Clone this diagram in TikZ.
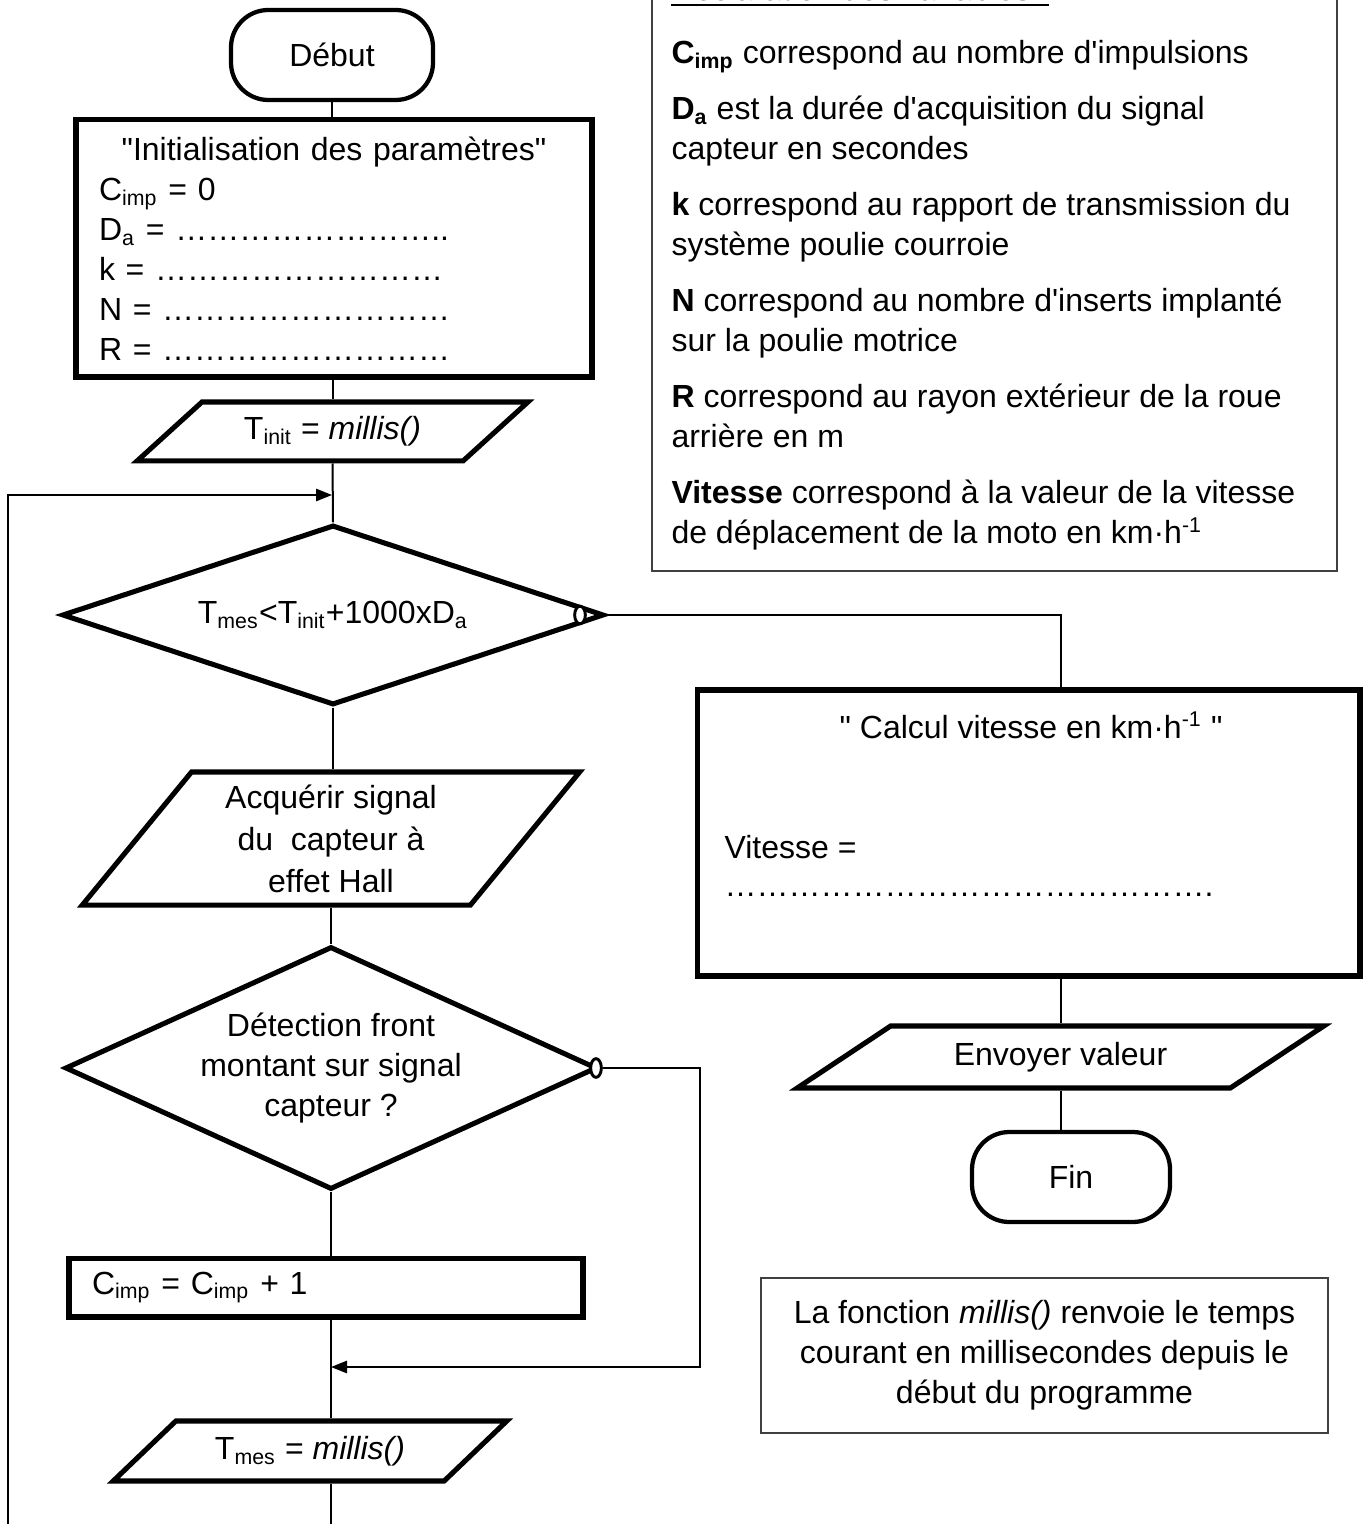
\documentclass[tikz,border=0pt]{standalone}
\usepackage{fontspec}
\setmainfont{Liberation Sans}[Ligatures=TeXOff]
\usetikzlibrary{arrows.meta, shapes.geometric}
\newcommand\elp{…}

\begin{document}
\begin{tikzpicture}[x=0.375pt, y=-0.375pt, >={Triangle[length=6pt,width=4.6pt]},
  font=\fontsize{12pt}{15pt}\selectfont,
  link/.style={line width=0.75pt},
  term/.style={draw, line width=1.6pt, rounded corners=14pt, minimum width=#1, minimum height=33.75pt},
  procbox/.style={draw, line width=1.9pt, rectangle},
  iobox/.style 2 args={draw, line width=1.9pt, trapezium, trapezium stretches=true,
    trapezium left angle=#1, trapezium right angle=#2, inner sep=1pt},
  test/.style={draw, line width=1.9pt, diamond, inner sep=0pt, align=center},
  nogo/.style={draw, ellipse, fill=white, line width=1.1pt, inner sep=0pt},
  infobox/.style={draw=black!75, line width=0.7pt}]

    \path[use as bounding box, fill=white] (0,0) rectangle (1368,1524);

    \coordinate (loopbot) at (8,1524);
    \coordinate (join1) at (332,495);
    \coordinate (join2) at (331,1367);
    \coordinate (rloop) at (700,1367);

    \node[term=75.75pt] (debut) at (332,55) {Début};
    \node[procbox, minimum width=193.5pt, minimum height=96.4pt, text width=176.25pt,
      inner xsep=8.6pt, inner ysep=3pt, align=left] (init) at (334,248.5)
      {\makebox[\linewidth]{"Initialisation des paramètres"}\\
       C\textsubscript{imp} = 0\\
       D\textsubscript{a} = \elp\elp\elp\elp\elp\elp\elp\elp..\\
       k = \elp\elp\elp\elp\elp\elp\elp\elp\elp\\
       N = \elp\elp\elp\elp\elp\elp\elp\elp\elp\\
       R = \elp\elp\elp\elp\elp\elp\elp\elp\elp};
    \node[iobox={37.8}{142.2}, minimum width=146.6pt, minimum height=22.1pt] (tinit) at (332.5,431.5)
      {T\textsubscript{init} = \textit{millis()}};
    \node[test, aspect=3, minimum width=203.25pt, minimum height=67.5pt] (d1) at (333,615)
      {T\textsubscript{mes}<T\textsubscript{init}+1000xD\textsubscript{a}};
    \node[iobox={53.1}{126.9}, minimum width=186.75pt, minimum height=49.9pt, align=center,
      font=\fontsize{12pt}{15.75pt}\selectfont] (acq) at (331,838.5)
      {Acquérir signal\\du~ capteur à\\effet Hall};
    \node[test, aspect=2.19, minimum width=199.5pt, minimum height=91.1pt] (d2) at (331,1068)
      {Détection front\\montant sur signal\\capteur ?};
    \node[procbox, minimum width=192.75pt, minimum height=22.1pt, text width=175.5pt,
      inner xsep=8.6pt, align=left] (cimp) at (326,1287.5)
      {C\textsubscript{imp} = C\textsubscript{imp} + 1};
    \node[iobox={37.6}{142.4}, minimum width=147.75pt, minimum height=22.5pt] (tmes) at (310,1451)
      {T\textsubscript{mes} = \textit{millis()}};

    \node[procbox, minimum width=248.6pt, minimum height=107.25pt] (calc) at (1028.5,833) {};
    \node[anchor=base, inner sep=0pt] (calctitle) at (1031,738)
      {" Calcul vitesse en km·h\textsuperscript{-1} "};
    \node[anchor=base west, inner sep=0pt] (calcvar) at (724,858) {Vitesse =};
    \node[anchor=base west, inner sep=0pt] (calcdots) at (724,896)
      {\elp\elp\elp\elp\elp\elp\elp\elp\elp\elp\elp\elp\elp\elp\elp.};
    \node[iobox={30.3}{149.7}, minimum width=197.6pt, minimum height=23.25pt] (envoi) at (1060.5,1057)
      {Envoyer valeur};
    \node[term=74.25pt] (fin) at (1071,1177) {Fin};
    \node[infobox, minimum width=212.6pt, minimum height=58.1pt, align=center] (note) at (1044.5,1355.5)
      {La fonction \textit{millis()} renvoie le temps\\courant en millisecondes depuis le\\début du programme};

    \draw[infobox] (652,-20) rectangle (1337,571);
    \node[anchor=base west, inner sep=0pt] (decltitle) at (671,0.5) {Déclaration des variables :};
    \draw[line width=1.1pt] ([yshift=-1.7pt]decltitle.base west) -- ([yshift=-1.7pt]decltitle.base east);
    \node[anchor=north west, inner sep=0pt, align=left] (decl) at (671,40)
      {\textbf{C\textsubscript{imp}} correspond au nombre d'impulsions\\[6pt]
       \textbf{D\textsubscript{a}} est la durée d'acquisition du signal\\
       capteur en secondes\\[6pt]
       \textbf{k} correspond au rapport de transmission du\\
       système poulie courroie\\[6pt]
       \textbf{N} correspond au nombre d'inserts implanté\\
       sur la poulie motrice\\[6pt]
       \textbf{R} correspond au rayon extérieur de la roue\\
       arrière en m\\[6pt]
       \textbf{Vitesse} correspond à la valeur de la vitesse\\
       de déplacement de la moto en km·h\textsuperscript{-1}};

    \draw[link] (debut.south) -- (debut.south |- init.north);
    \draw[link] (tinit.north |- init.south) -- (tinit.north);
    \draw[link] (tinit.south) -- (d1.north);
    \draw[link] (d1.south) -- (d1.south |- acq.north);
    \draw[link] (acq.south) -- (acq.south |- d2.north);
    \draw[link] (d2.south) -- (d2.south |- cimp.north);
    \draw[link] (d2.south |- cimp.south) -- (d2.south |- tmes.north);
    \draw[link] (d2.south |- tmes.south) -- (d2.south |- loopbot);
    \draw[link,->] (loopbot) |- (join1);

    \node[nogo, minimum width=4pt, minimum height=6.6pt] (c1) at (580,615) {};
    \draw[link] (d1.east) -| (envoi.north |- calc.north);
    \node[nogo, minimum width=4pt, minimum height=7pt] (c2) at (596,1068) {};
    \draw[link,->] (c2.east) -| (rloop) -- (join2);
    \draw[link] (envoi.north |- calc.south) -- (envoi.north);
    \draw[link] (envoi.south) -- (envoi.south |- fin.north);

\end{tikzpicture}
\end{document}
